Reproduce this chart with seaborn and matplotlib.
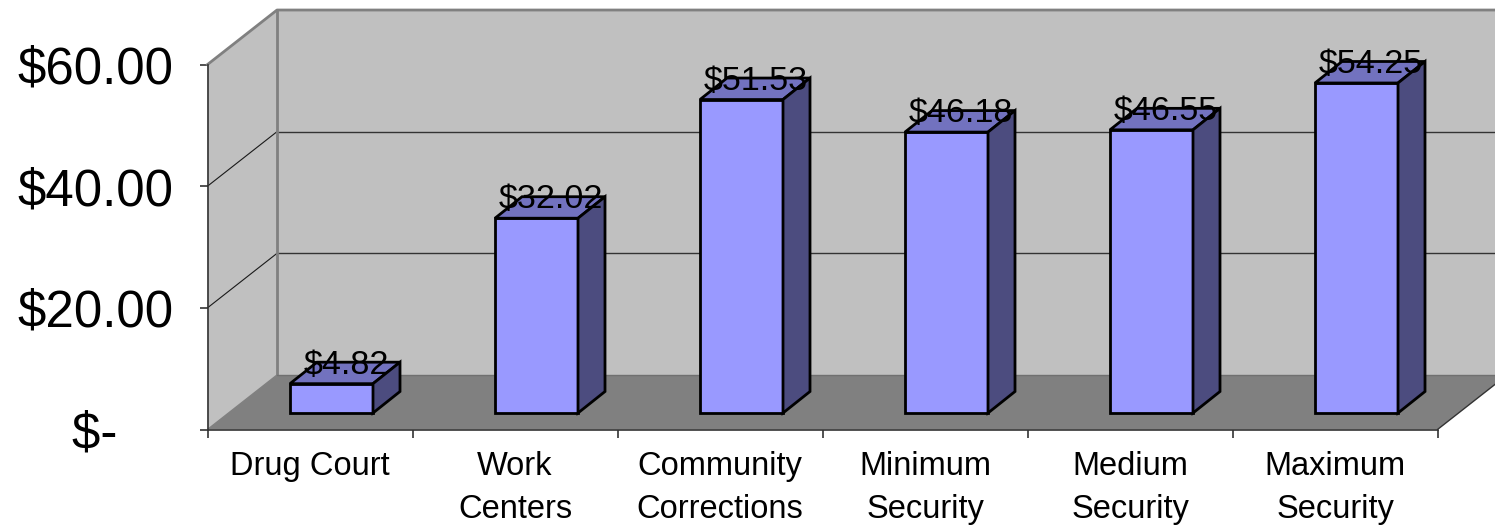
import matplotlib
matplotlib.use("Agg")
import matplotlib.pyplot as plt
from matplotlib.patches import Polygon
import numpy as np
import pandas as pd
import seaborn as sns

# Cost per day by placement type
categories = ["Drug Court", "Work\nCenters", "Community\nCorrections",
              "Minimum\nSecurity", "Medium\nSecurity", "Maximum\nSecurity"]
values = [4.82, 32.02, 51.53, 46.18, 46.55, 54.25]
value_labels = ["$4.82", "$32.02", "$51.53", "$46.18", "$46.55", "$54.25"]
y_ticks = [0, 20, 40, 60]
y_tick_labels = ["$-\u00a0\u00a0\u00a0\u00a0", "$20.00", "$40.00", "$60.00"]

W, H = 1495, 526
SLOT_PX = 205.0
UNIT_PX = 6.083
FIRST_BAR_PX = 331.5
BASE_PX = 429.5
LEFT_PX = 207.5
BAR_EDGE = 2.0


def px_w(p):
    return p / SLOT_PX


def px_h(p):
    return p / UNIT_PX


# Oblique offsets of the box: wall depth, bar depth, and the bars' inset from the front edge
wall_dx, wall_dy = px_w(69.5), px_h(54.5)
bar_dx, bar_dy = px_w(27), px_h(21.5)
bar_inset = px_h(16.5)
x_left = (LEFT_PX - FIRST_BAR_PX) / SLOT_PX
x_right = x_left + len(categories)
y_top = y_ticks[-1]

sns.set_theme(style="white")
plt.rcParams["font.family"] = ["Liberation Sans", "DejaVu Sans"]

fig = plt.figure(figsize=(W / 100, H / 100), dpi=100)
ax = fig.add_axes([0, 0, 1, 1])

df = pd.DataFrame({"category": categories, "value": values})
sns.barplot(data=df, x="category", y="value", order=categories, color="#9999FF",
            saturation=1, width=83 / SLOT_PX, errorbar=None, edgecolor="black",
            linewidth=BAR_EDGE, ax=ax, zorder=3)

ax.set_xlim(-FIRST_BAR_PX / SLOT_PX, (W - FIRST_BAR_PX) / SLOT_PX)
ax.set_ylim(-(H - BASE_PX) / UNIT_PX, BASE_PX / UNIT_PX)
ax.set_xlabel("")
ax.set_ylabel("")

# Box: floor, side wall and back wall
WALL = "#C0C0C0"
FLOOR = "#808080"
ax.add_patch(Polygon([(x_left + wall_dx, wall_dy), (x_right + wall_dx, wall_dy),
                      (x_right + wall_dx, y_top + wall_dy), (x_left + wall_dx, y_top + wall_dy)],
                     fc=WALL, ec="none", zorder=0.5))
ax.add_patch(Polygon([(x_left, 0), (x_left + wall_dx, wall_dy),
                      (x_left + wall_dx, y_top + wall_dy), (x_left, y_top)],
                     fc=WALL, ec="none", zorder=0.5))
ax.add_patch(Polygon([(x_left, 0), (x_right, 0), (x_right + wall_dx, wall_dy), (x_left + wall_dx, wall_dy)],
                     fc=FLOOR, ec="none", zorder=0.6))

# Gridlines run along the side wall and across the back wall
for t in y_ticks[1:-1]:
    ax.plot([x_left, x_left + wall_dx], [t, t + wall_dy], color="#1a1a1a", lw=0.8, zorder=0.7)
    ax.plot([x_left + wall_dx, x_right + wall_dx], [t + wall_dy, t + wall_dy],
            color="#333333", lw=1.0, zorder=0.7)

# Heavier grey outline of the box
outline = dict(color="#808080", lw=2.0, zorder=0.8, solid_capstyle="projecting")
ax.plot([x_left, x_left + wall_dx, x_right + wall_dx], [y_top, y_top + wall_dy, y_top + wall_dy], **outline)
ax.plot([x_left + wall_dx, x_left + wall_dx], [wall_dy, y_top + wall_dy], **outline)
ax.plot([x_left + wall_dx, x_left], [wall_dy, 0], color="#808080", lw=1.0, zorder=0.8)
ax.plot([x_left + wall_dx, x_right + wall_dx], [wall_dy, wall_dy], color="#707070", lw=1.0, zorder=0.8)
ax.plot([x_right, x_right + wall_dx], [0, wall_dy], color="#333333", lw=1.0, zorder=0.8)

# Lift each bar onto the floor and give it a top and a side face
for bar, label in zip(ax.patches[:], value_labels):
    if not bar.get_height():
        continue
    bar.set_y(bar_inset)
    x0, x1 = bar.get_x(), bar.get_x() + bar.get_width()
    y0, y1 = bar_inset, bar_inset + bar.get_height()
    ax.add_patch(Polygon([(x0, y1), (x1, y1), (x1 + bar_dx, y1 + bar_dy), (x0 + bar_dx, y1 + bar_dy)],
                         fc="#7272BF", ec="black", lw=BAR_EDGE, zorder=3, joinstyle="miter"))
    ax.add_patch(Polygon([(x1, y0), (x1 + bar_dx, y0 + bar_dy), (x1 + bar_dx, y1 + bar_dy), (x1, y1)],
                         fc="#4C4C7F", ec="black", lw=BAR_EDGE, zorder=3, joinstyle="miter"))
    ax.text((x0 + x1) / 2 + px_w(14.5), y1 + px_h(10), label, ha="center", va="baseline",
            fontsize=24.6, color="black", zorder=5)

# Axes sit on the front edge of the box
for side in ("top", "right"):
    ax.spines[side].set_visible(False)
ax.spines["left"].set_position(("data", x_left))
ax.spines["left"].set_bounds(0, y_top)
ax.spines["bottom"].set_position(("data", 0))
ax.spines["bottom"].set_bounds(x_left, x_right)
for side in ("left", "bottom"):
    ax.spines[side].set_color("#333333")
    ax.spines[side].set_linewidth(1.2)
    ax.spines[side].set_zorder(1)

ax.set_yticks(y_ticks)
ax.set_yticklabels(y_tick_labels, va="center_baseline")
ax.tick_params(axis="y", length=5.8, width=1.2, color="#333333", pad=18.5,
               labelsize=36.7, labelcolor="black", left=True)

edges = x_left + np.arange(len(categories) + 1)
ax.set_xticks(edges)
ax.set_xticklabels([])
ax.set_xticks(edges[:-1] + 0.5, minor=True)
ax.set_xticklabels(categories, minor=True, linespacing=1.5)
ax.tick_params(axis="x", which="major", length=5.8, width=1.2, color="#333333", bottom=True)
ax.tick_params(axis="x", which="minor", length=0, pad=15.5, labelsize=23.5, labelcolor="black")

fig.savefig("out.png", dpi=100, facecolor="white")
